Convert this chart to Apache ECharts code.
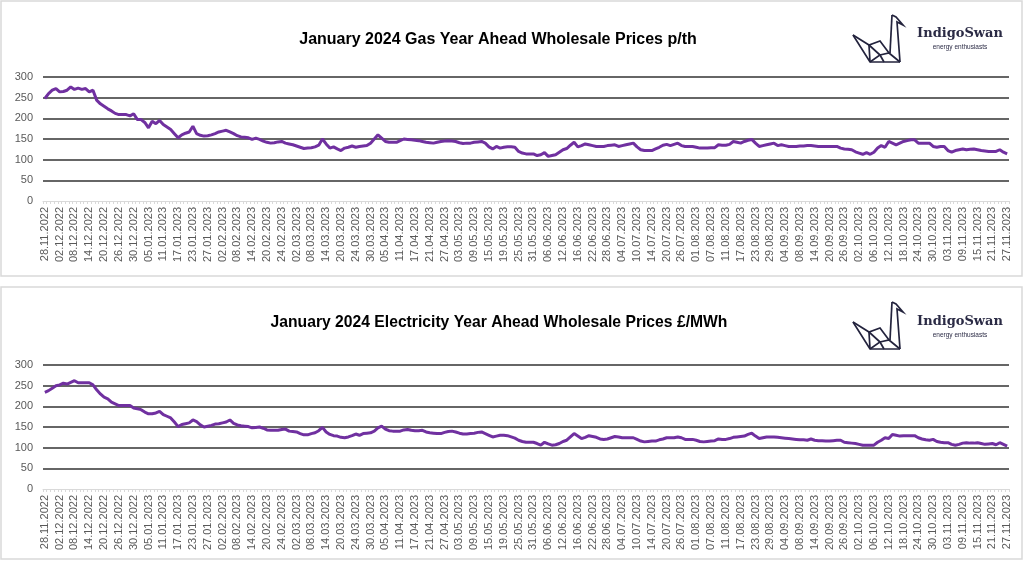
<!DOCTYPE html>
<html>
<head>
<meta charset="utf-8">
<script src="https://cdn.jsdelivr.net/npm/echarts@6/dist/echarts.min.js"></script>
<style>html,body{margin:0;padding:0;background:#fff}#c{width:1024px;height:561px}</style>
</head>
<body>
<div id="c"></div>
<script>
// Category axis: every weekday from 28.11.2022 to 27.11.2023
var startDate = [2022, 11, 28];
var endDate = [2023, 11, 27];
var yTicks = [0, 50, 100, 150, 200, 250, 300];
var gasTitle = 'January 2024 Gas Year Ahead Wholesale Prices p/th';
var elecTitle = 'January 2024 Electricity Year Ahead Wholesale Prices £/MWh';

var gasPrices = [
248,260,268,272,264,265,268,276,270,273,
270,272,264,268,244,235,229,223,218,212,
209,209,209,206,211,197,197,190,177,193,
187,195,185,179,173,163,153,160,164,167,
181,163,159,157,158,160,163,167,169,171,
167,163,158,155,154,153,149,152,149,145,
142,140,141,143,144,140,138,136,133,130,
127,128,129,131,135,150,138,128,131,126,
122,128,130,133,130,132,133,134,140,150,
160,152,144,142,142,142,146,150,149,148,
147,146,144,142,141,140,142,144,145,146,
145,144,141,139,140,140,142,143,144,140,
131,126,132,128,130,131,131,130,120,116,
114,114,114,110,112,117,108,110,112,118,
124,127,135,142,131,134,138,136,134,132,
132,132,134,135,136,132,134,136,138,140,
131,124,122,122,122,126,130,135,137,134,
137,140,134,132,132,132,130,128,128,128,
129,129,136,135,135,137,144,142,140,144,
147,149,140,132,134,136,138,140,134,136,
134,132,132,132,133,133,134,134,133,132,
132,132,132,132,132,128,126,125,124,119,
116,113,117,113,118,128,134,130,144,140,
136,140,144,146,148,148,140,140,140,140,
132,130,132,132,122,118,122,124,126,124,
125,126,124,122,121,120,120,120,124,118,
114
];

var elecPrices = [
234,238,244,250,252,256,254,258,262,257,
257,257,257,252,240,230,222,218,210,206,
202,202,202,202,196,194,192,186,182,182,
184,188,180,176,172,162,151,156,158,160,
167,163,155,150,152,154,157,158,160,162,
167,159,155,153,152,151,148,149,150,147,
143,142,142,142,144,145,140,139,138,134,
131,131,134,136,141,149,138,132,129,128,
125,124,126,129,133,130,134,135,136,140,
148,152,145,141,140,140,140,143,144,142,
141,141,142,138,136,135,134,134,137,139,
140,138,135,133,133,134,135,137,138,134,
130,126,128,130,130,129,126,123,118,115,
113,113,113,110,106,113,109,106,107,110,
115,118,126,134,128,122,125,129,127,125,
121,120,121,124,127,126,124,124,124,124,
120,116,114,115,116,116,119,121,124,124,
124,126,124,120,120,120,118,115,114,115,
116,117,121,120,120,122,125,126,127,128,
132,135,128,122,124,126,126,126,125,124,
123,122,121,120,119,119,118,121,118,117,
117,116,116,117,118,118,113,112,111,110,
108,106,106,106,106,113,118,124,122,132,
130,128,129,129,129,129,124,121,119,118,
120,115,113,112,112,108,106,108,111,112,
111,111,112,110,108,109,110,107,112,108,
104
];

function buildDates() {
  var out = [];
  var d = new Date(Date.UTC(startDate[0], startDate[1] - 1, startDate[2]));
  var e = new Date(Date.UTC(endDate[0], endDate[1] - 1, endDate[2]));
  while (d <= e) {
    var wd = d.getUTCDay();
    if (wd !== 0 && wd !== 6) {
      var dd = ('0' + d.getUTCDate()).slice(-2);
      var mm = ('0' + (d.getUTCMonth() + 1)).slice(-2);
      out.push(dd + '.' + mm + '.' + d.getUTCFullYear());
    }
    d = new Date(d.getTime() + 86400000);
  }
  return out;
}
var categories = buildDates();

var chart = echarts.init(document.getElementById('c'), null, {renderer: 'canvas'});
var FONT = 'Liberation Sans';
var PURPLE = '#7030a0';
var GRID = '#333333';

function xAxisCfg(i) {
  return {
    type: 'category', gridIndex: i, data: categories, boundaryGap: true,
    axisLine: {show: true, lineStyle: {color: '#d9d9d9', width: 1}},
    axisTick: {show: true, interval: 0, length: 3, lineStyle: {color: '#d9d9d9'}},
    axisLabel: {interval: 3, rotate: 90, fontSize: 11, color: '#595959', margin: 6, fontFamily: FONT}
  };
}
function yAxisCfg(i) {
  return {
    type: 'value', gridIndex: i, min: yTicks[0], max: yTicks[yTicks.length - 1], interval: 50,
    axisLine: {show: false}, axisTick: {show: false},
    axisLabel: {fontSize: 11, color: '#595959', margin: 10, fontFamily: FONT},
    splitLine: {show: true, lineStyle: {color: ['rgba(0,0,0,0)', GRID, GRID, GRID, GRID, GRID, GRID], width: 1.7}}
  };
}

function swan(ox, oy) {
  var pts = [
    [[0,20],[17,47],[47,47]],
    [[0,20],[16,30],[27,26],[36,38]],
    [[39,0],[43,2],[50,10],[44,7],[47,47]],
    [[39,0],[37,38]],
    [[16,30],[17,47]],
    [[16,30],[27,40],[17,47]],
    [[27,40],[36,38],[47,47]],
    [[27,40],[31,47]]
  ];
  return {
    type: 'group', x: ox, y: oy,
    children: pts.map(function (p) {
      return {type: 'polyline', shape: {points: p}, style: {stroke: '#23233d', lineWidth: 1.7, fill: null, lineJoin: 'miter'}};
    })
  };
}
function logoText(x, y) {
  return [
    {type: 'text', x: x, y: y, style: {text: 'IndigoSwan', font: '600 13px "DejaVu Serif"', fill: '#2b2b45', textAlign: 'center', textVerticalAlign: 'middle'}},
    {type: 'text', x: x, y: y + 13, style: {text: 'energy enthusiasts', font: '6.5px "Liberation Sans"', fill: '#2b2b45', textAlign: 'center', textVerticalAlign: 'middle'}}
  ];
}

var graphics = [
  {type: 'rect', shape: {x: 1, y: 1, width: 1021, height: 275}, style: {fill: null, stroke: '#d9d9d9', lineWidth: 1.5}, z: 0},
  {type: 'rect', shape: {x: 1, y: 287, width: 1021, height: 272}, style: {fill: null, stroke: '#d9d9d9', lineWidth: 1.5}, z: 0},
  {type: 'text', x: 498, y: 40, style: {text: gasTitle, font: 'bold 16px "Liberation Sans"', fill: '#000', textAlign: 'center', textVerticalAlign: 'middle'}},
  {type: 'text', x: 499, y: 323, style: {text: elecTitle, font: 'bold 15.7px "Liberation Sans"', fill: '#000', textAlign: 'center', textVerticalAlign: 'middle'}},
  swan(853, 15),
  swan(853, 302)
].concat(logoText(960, 34)).concat(logoText(960, 322));

chart.setOption({
  animation: false,
  backgroundColor: '#ffffff',
  grid: [
    {left: 43, right: 15, top: 77, height: 124},
    {left: 43, right: 15, top: 365, height: 124}
  ],
  xAxis: [xAxisCfg(0), xAxisCfg(1)],
  yAxis: [yAxisCfg(0), yAxisCfg(1)],
  series: [
    {type: 'line', xAxisIndex: 0, yAxisIndex: 0, data: gasPrices, showSymbol: false, symbol: 'none',
     lineStyle: {color: PURPLE, width: 3}, itemStyle: {color: PURPLE}},
    {type: 'line', xAxisIndex: 1, yAxisIndex: 1, data: elecPrices, showSymbol: false, symbol: 'none',
     lineStyle: {color: PURPLE, width: 3}, itemStyle: {color: PURPLE}}
  ],
  graphic: graphics
});
</script>
</body>
</html>
